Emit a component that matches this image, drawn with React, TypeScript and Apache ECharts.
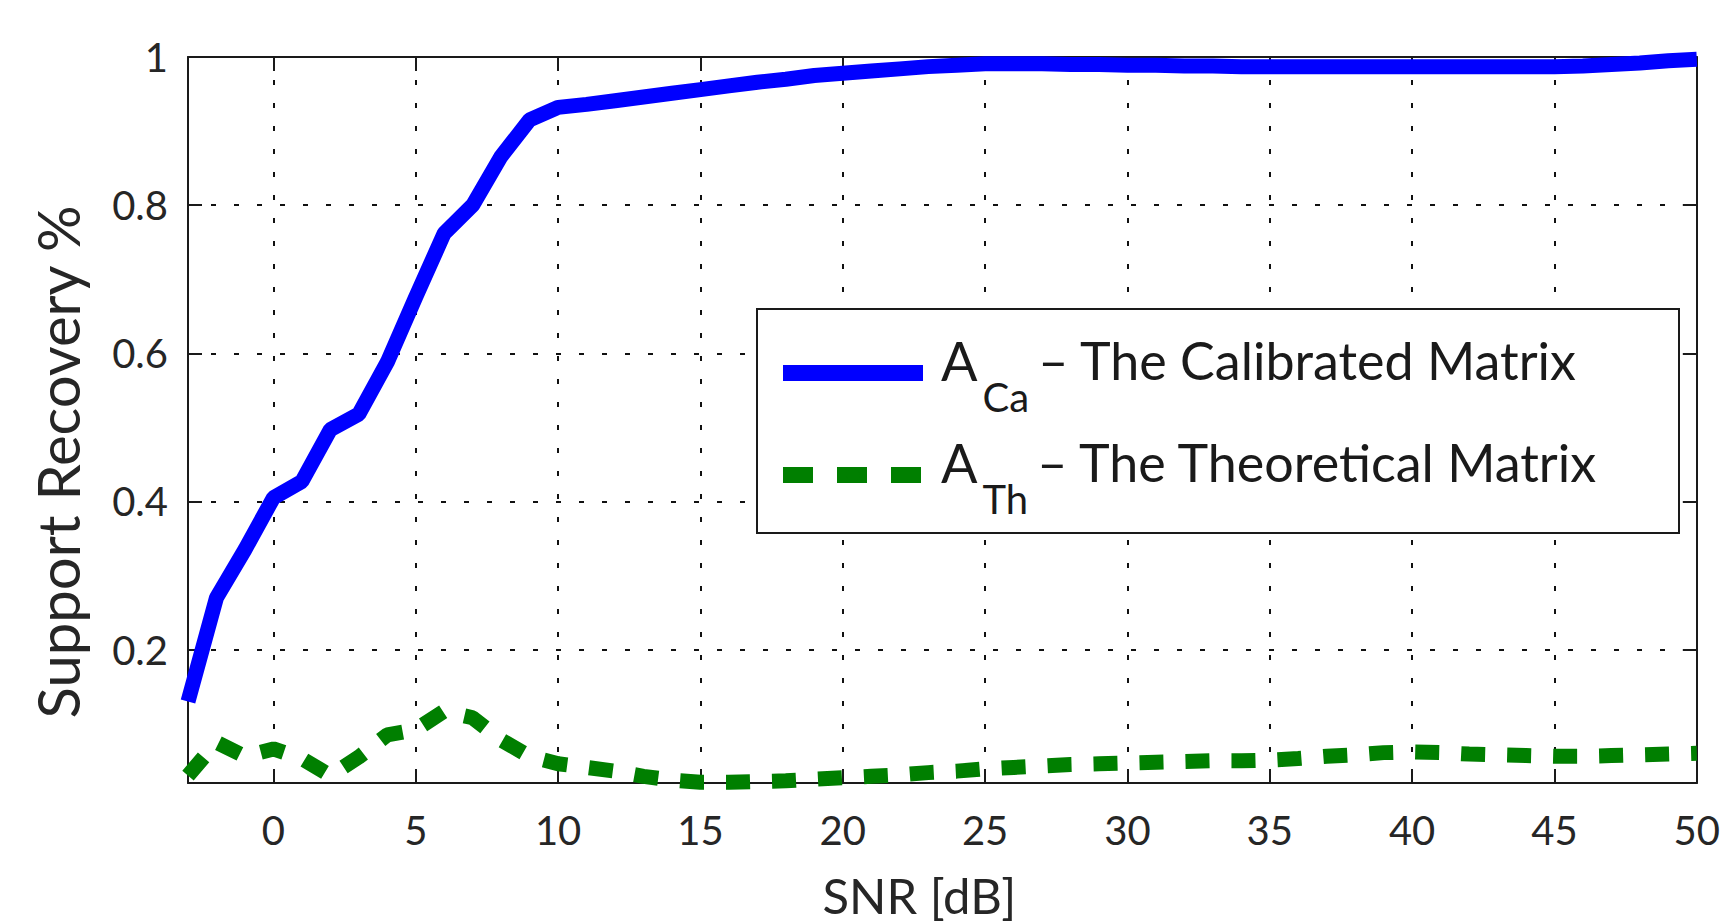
import React, { useEffect, useRef } from "react";
import * as echarts from "echarts";

const snr = [
  -3, -2, -1, 0, 1, 2, 3, 4, 5, 6, 7, 8, 9, 10, 11, 12, 13, 14, 15, 16, 17, 18,
  19, 20, 21, 22, 23, 24, 25, 26, 27, 28, 29, 30, 31, 32, 33, 34, 35, 36, 37,
  38, 39, 40, 41, 42, 43, 44, 45, 46, 47, 48, 49, 50,
];

const calibrated = [
  0.13, 0.27, 0.335, 0.405, 0.427, 0.497, 0.518, 0.588, 0.676, 0.762, 0.8,
  0.866, 0.915, 0.932, 0.936, 0.941, 0.946, 0.951, 0.956, 0.961, 0.966, 0.97,
  0.975, 0.978, 0.981, 0.984, 0.987, 0.989, 0.991, 0.991, 0.991, 0.99, 0.99,
  0.989, 0.989, 0.988, 0.988, 0.987, 0.987, 0.987, 0.987, 0.987, 0.987, 0.987,
  0.987, 0.987, 0.987, 0.987, 0.987, 0.988, 0.99, 0.992, 0.995, 0.997,
];

const theoretical = [
  0.03, 0.075, 0.056, 0.066, 0.053, 0.03, 0.055, 0.085, 0.092, 0.117, 0.108,
  0.078, 0.056, 0.046, 0.041, 0.036, 0.029, 0.024, 0.021, 0.021, 0.022, 0.023,
  0.025, 0.027, 0.029, 0.031, 0.034, 0.036, 0.039, 0.041, 0.043, 0.045, 0.046,
  0.047, 0.048, 0.049, 0.05, 0.05, 0.051, 0.053, 0.056, 0.058, 0.061, 0.062,
  0.061, 0.059, 0.058, 0.057, 0.056, 0.056, 0.057, 0.058, 0.059, 0.06,
];

const seriesNames = [
  "A_Ca – The Calibrated Matrix",
  "A_Th – The Theoretical Matrix",
];
const legendSubs = ["Ca", "Th"];
const legendTexts = ["– The Calibrated Matrix", "– The Theoretical Matrix"];

const xLabel = "SNR [dB]";
const yLabel = "Support Recovery %";

const FONT = "Lato, 'Open Sans', sans-serif";
const INK = "#1a1a1a";
const TEXT = "#262626";

export default function App() {
  const ref = useRef<HTMLDivElement>(null);

  useEffect(() => {
    const chart = echarts.init(ref.current!, null, { renderer: "svg" });

    const axisLine = {
      show: true,
      onZero: false,
      lineStyle: { color: INK, width: 2 },
    };
    const axisTick = {
      show: true,
      inside: true,
      length: 14,
      lineStyle: { color: INK, width: 2 },
    };
    const splitLine = {
      show: true,
      lineStyle: { color: "#111", width: 2, type: [5, 18] },
    };

    const xCommon = { type: "value", min: -3, max: 50, splitNumber: 11 };
    const yCommon = { type: "value", min: 0.02, max: 1, splitNumber: 5 };

    const pairs = (ys: number[]) => snr.map((x, i) => [x, ys[i]]);

    chart.setOption({
      animation: false,
      backgroundColor: "#ffffff",
      grid: { left: 188, right: 22, top: 57, bottom: 140, containLabel: false },
      xAxis: [
        {
          ...xCommon,
          position: "bottom",
          axisLine,
          axisTick,
          splitLine,
          axisLabel: {
            show: true,
            showMinLabel: false,
            margin: 27,
            fontSize: 40,
            fontFamily: FONT,
            color: TEXT,
          },
          name: xLabel,
          nameLocation: "middle",
          nameGap: 87,
          nameTextStyle: {
            fontSize: 49,
            fontFamily: FONT,
            color: TEXT,
            padding: [0, 46, 0, 0],
          },
        },
        {
          ...xCommon,
          position: "top",
          axisLine,
          axisTick,
          splitLine: { show: false },
          axisLabel: { show: false },
        },
      ],
      yAxis: [
        {
          ...yCommon,
          position: "left",
          axisLine,
          axisTick,
          splitLine,
          axisLabel: {
            show: true,
            showMinLabel: false,
            margin: 20,
            fontSize: 40,
            fontFamily: FONT,
            color: TEXT,
          },
          name: yLabel,
          nameLocation: "middle",
          nameGap: 102,
          nameTextStyle: {
            fontSize: 58,
            fontFamily: FONT,
            color: TEXT,
            padding: [0, 84, 0, 0],
          },
        },
        {
          ...yCommon,
          position: "right",
          axisLine,
          axisTick,
          splitLine: { show: false },
          axisLabel: { show: false },
        },
      ],
      graphic: [
        {
          type: "rect",
          z: 3,
          shape: { x: 757, y: 309, width: 922, height: 224 },
          style: { fill: "#ffffff", stroke: INK, lineWidth: 2 },
        },
      ],
      legend: {
        orient: "vertical",
        left: 775,
        top: 333,
        padding: 0,
        itemGap: 18,
        itemWidth: 140,
        itemHeight: 16,
        z: 4,
        selectedMode: false,
        data: [
          {
            name: seriesNames[0],
            lineStyle: { color: "#0000ff", width: 16, type: "solid" },
          },
          {
            name: seriesNames[1],
            lineStyle: { color: "#007f00", width: 16, type: [30, 24] },
          },
        ],
        formatter: (name: string) => {
          const i = seriesNames.indexOf(name);
          return `{a|A}{s|${legendSubs[i]}}{b|${legendTexts[i]}}`;
        },
        textStyle: {
          fontFamily: FONT,
          color: INK,
          rich: {
            a: {
              fontSize: 54,
              fontFamily: FONT,
              color: INK,
              padding: [0, 0, 26, 13],
            },
            s: {
              fontSize: 40,
              fontFamily: FONT,
              color: INK,
              padding: [48, 0, 0, 5],
            },
            b: {
              fontSize: 52,
              fontFamily: FONT,
              color: INK,
              padding: [0, 0, 26, 9],
            },
          },
        },
      },
      series: [
        {
          name: seriesNames[0],
          type: "line",
          data: pairs(calibrated),
          showSymbol: false,
          symbol: "none",
          clip: true,
          lineStyle: { color: "#0000ff", width: 15 },
          itemStyle: { color: "#0000ff" },
          z: 2,
        },
        {
          name: seriesNames[1],
          type: "line",
          data: pairs(theoretical),
          showSymbol: false,
          symbol: "none",
          clip: true,
          lineStyle: { color: "#007f00", width: 15, type: [24, 22] },
          itemStyle: { color: "#007f00" },
          z: 2,
        },
      ],
    });

    return () => chart.dispose();
  }, []);

  return (
    <div
      ref={ref}
      style={{
        position: "absolute",
        left: 0,
        top: 0,
        width: 1723,
        height: 924,
        background: "#ffffff",
      }}
    />
  );
}
